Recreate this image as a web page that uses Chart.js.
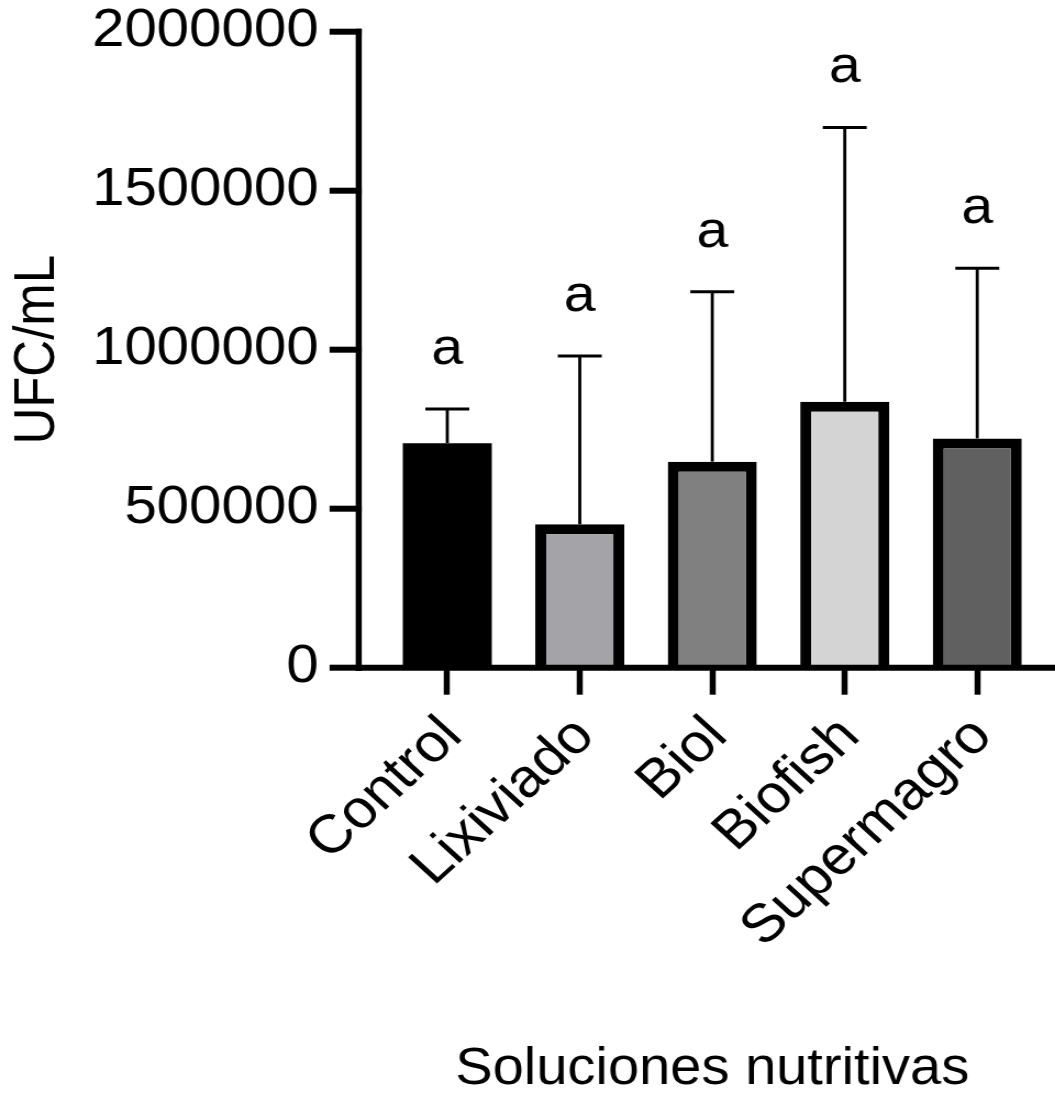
<!DOCTYPE html>
<html>
<head>
<meta charset="utf-8">
<script src="https://cdn.jsdelivr.net/npm/chart.js@4"></script>
<style>
  html, body { margin: 0; padding: 0; background: #fff; overflow: hidden; }
  #wrap { width: 960px; height: 1093px; transform: scaleX(1.099); transform-origin: 0 0; }
</style>
</head>
<body>
<div id="wrap"><canvas id="chart" width="960" height="1093"></canvas></div>
<script>
// data
var categories = ['Control', 'Lixiviado', 'Biol', 'Biofish', 'Supermagro'];
var means = [706000, 451000, 648000, 836000, 721000];
var sd = [107500, 529000, 534000, 863000, 535000];
var letters = ['a', 'a', 'a', 'a', 'a'];
var barColors = ['#000000', '#a3a3a8', '#808080', '#d4d4d4', '#606060'];
var yTicks = [0, 500000, 1000000, 1500000, 2000000];

var FONT = "'Liberation Sans', Arial, sans-serif";

// error bars, letters and the two axis lines (axis is set off from the bars)
var errorBars = {
  id: 'errorBars',
  afterDatasetsDraw: function (chart) {
    var ctx = chart.ctx;
    var y = chart.scales.y;
    var area = chart.chartArea;
    var meta = chart.getDatasetMeta(0);
    ctx.save();
    ctx.strokeStyle = '#000';
    ctx.fillStyle = '#000';
    meta.data.forEach(function (bar, i) {
      var top = y.getPixelForValue(means[i] + sd[i]);
      ctx.lineWidth = 2.8;
      ctx.beginPath();
      ctx.moveTo(bar.x, bar.y);
      ctx.lineTo(bar.x, top);
      ctx.stroke();
      ctx.lineWidth = 3;
      ctx.beginPath();
      ctx.moveTo(bar.x - 20, top);
      ctx.lineTo(bar.x + 20, top);
      ctx.stroke();
      ctx.font = '52px ' + FONT;
      ctx.textAlign = 'center';
      ctx.textBaseline = 'alphabetic';
      ctx.fillText(letters[i], bar.x, top - 45);
    });

    var axisX = area.left - 20.3;
    // x axis line
    ctx.lineWidth = 6;
    ctx.beginPath();
    ctx.moveTo(axisX - 2.7, area.bottom);
    ctx.lineTo(chart.width, area.bottom);
    ctx.stroke();
    // y axis line
    ctx.lineWidth = 5.5;
    ctx.beginPath();
    ctx.moveTo(axisX, y.getPixelForValue(yTicks[yTicks.length - 1]) - 3);
    ctx.lineTo(axisX, area.bottom + 3);
    ctx.stroke();
    // y tick marks
    ctx.lineWidth = 6;
    yTicks.forEach(function (v) {
      var py = y.getPixelForValue(v);
      ctx.beginPath();
      ctx.moveTo(axisX - 26.5, py);
      ctx.lineTo(axisX + 2.7, py);
      ctx.stroke();
    });
    ctx.restore();
  }
};

var ctx = document.getElementById('chart').getContext('2d');
var myChart = new Chart(ctx, {
  type: 'bar',
  data: {
    labels: categories,
    datasets: [{
      data: means,
      backgroundColor: barColors,
      borderColor: '#000000',
      // the black control bar needs no border (avoids a seam)
      borderWidth: [0, 10, 10, 10, 10],
      borderSkipped: 'start',
      categoryPercentage: 1,
      barPercentage: 0.672
    }]
  },
  options: {
    responsive: false,
    maintainAspectRatio: false,
    devicePixelRatio: 1,
    animation: false,
    layout: { padding: { top: 31.7, right: 10.5, left: 0, bottom: 0 } },
    plugins: {
      legend: { display: false },
      tooltip: { enabled: false }
    },
    scales: {
      x: {
        offset: true,
        border: { display: false },
        grid: {
          display: true,
          offset: false,
          drawOnChartArea: false,
          drawTicks: true,
          tickLength: 27,
          tickWidth: 5.5,
          tickColor: '#000'
        },
        ticks: {
          autoSkip: false,
          maxRotation: 45,
          minRotation: 45,
          padding: 10,
          labelOffset: 5,
          color: '#000',
          font: { family: FONT, size: 54 }
        },
        title: {
          display: true,
          text: 'Soluciones nutritivas',
          color: '#000',
          font: { family: FONT, size: 51, lineHeight: 0.92 },
          padding: { top: 0, bottom: 0 }
        },
        afterFit: function (scale) {
          scale.height = 1093 - 667.7;
          scale.paddingLeft = 0;
          scale.paddingRight = 0;
        }
      },
      y: {
        min: 0,
        max: 2000000,
        border: { display: false },
        grid: { display: false, drawTicks: false },
        afterBuildTicks: function (scale) {
          scale.ticks = yTicks.map(function (v) { return { value: v }; });
        },
        ticks: {
          padding: 56.7,
          color: '#000',
          font: { family: FONT, size: 53 },
          callback: function (v) { return String(v); }
        },
        title: {
          display: true,
          text: 'UFC/mL',
          color: '#000',
          font: { family: FONT, size: 51, lineHeight: 1 },
          padding: { top: 9.5, bottom: 0 }
        },
        afterFit: function (scale) {
          scale.width = 346.7;
          scale.paddingTop = 0;
          scale.paddingBottom = 0;
        }
      }
    }
  },
  plugins: [errorBars]
});
</script>
</body>
</html>
